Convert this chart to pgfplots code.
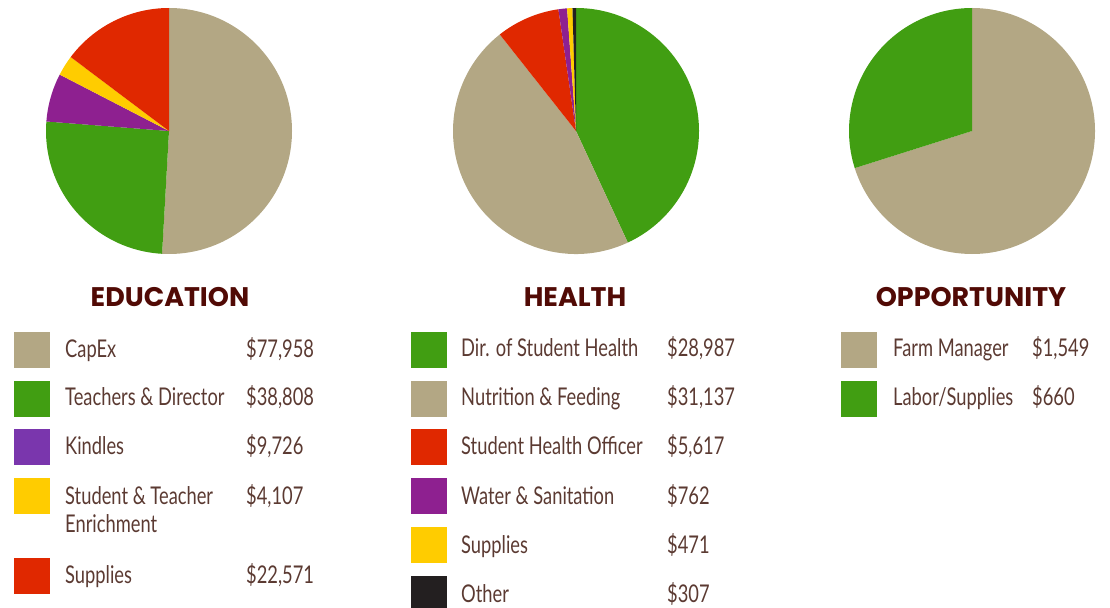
\documentclass[border=0pt]{standalone}
\usepackage{fontspec}
\setmainfont{Lato}
\newfontfamily\legfont[FakeStretch=0.75]{Lato}
\newfontfamily\titlefont{Poppins}
\usepackage{pgfplots}
\pgfplotsset{compat=1.18}

\definecolor{tan}{HTML}{B3A784}
\definecolor{grn}{HTML}{419E12}
\definecolor{rd}{HTML}{E02800}
\definecolor{pur}{HTML}{8E2090}
\definecolor{vio}{HTML}{7A36AD}
\definecolor{yel}{HTML}{FFCC00}
\definecolor{blk}{HTML}{231F20}
\definecolor{txt}{HTML}{5B3A32}
\definecolor{ttl}{HTML}{510A05}

% pie: centre x, centre y (pixels, y down), list value/colour, clockwise from 12 o'clock
\newcommand\pie[3]{%
  \xdef\total{0}%
  \foreach \v/\c in {#3} {\xdef\total{\fpeval{\total+\v}}}%
  \xdef\cum{0}%
  \foreach \v/\c in {#3} {%
    \edef\a{\fpeval{90-360*\cum/\total}}%
    \edef\b{\fpeval{90-360*(\cum+\v)/\total}}%
    \edef\tmp{\noexpand\fill[\c] (axis cs:#1,#2) -- ++(\a:123bp)
      arc[start angle=\a, end angle=\b, radius=123bp] -- cycle;}%
    \tmp
    \xdef\cum{\fpeval{\cum+\v}}%
  }%
}
\tikzset{leg/.style={anchor=base west, inner sep=0pt, text=txt,
  font=\legfont\fontsize{24.5}{28}\selectfont}}
% legend row: square x, top y, colour, label x, value x, baseline y, label, value
\newcommand\legrow[8]{%
  \fill[#3] (axis cs:#1,#2) rectangle (axis cs:#1+36,#2+36);
  \node[leg] at (axis cs:#4,#6) {#7};
  \node[leg] at (axis cs:#5,#6) {#8};
}

\begin{document}
\begin{tikzpicture}
\begin{axis}[
  scale only axis, width=1110bp, height=608bp,
  xmin=0, xmax=1110, ymin=0, ymax=608, y dir=reverse,
  hide axis, clip=true,
]
\coordinate (bl) at (axis cs:0,608);
\coordinate (tr) at (axis cs:1110,0);

% Education
\pie{169}{131}{77958/tan, 38808/grn, 9726/pur, 4107/yel, 22571/rd}
% Health
\pie{576}{131}{28987/grn, 31137/tan, 5617/rd, 762/pur, 471/yel, 307/blk}
% Opportunity
\pie{972}{131}{1549/tan, 660/grn}

\tikzset{ttlstyle/.style={anchor=base, inner sep=0pt, text=ttl,
  font=\titlefont\bfseries\fontsize{27}{30}\selectfont}}
\node[ttlstyle] at (axis cs:170,306) {EDUCATION};
\node[ttlstyle] at (axis cs:575,306) {HEALTH};
\node[ttlstyle] at (axis cs:971,306) {OPPORTUNITY};

\legrow{14}{332}{tan}{65}{246}{357}{CapEx}{\$77,958}
\legrow{14}{381}{grn}{65}{246}{405}{Teachers \& Director}{\$38,808}
\legrow{14}{429}{vio}{65}{246}{454}{Kindles}{\$9,726}
\legrow{14}{478}{yel}{65}{246}{504}{Student \& Teacher}{\$4,107}
\node[leg] at (axis cs:65,532) {Enrichment};
\legrow{14}{558}{rd}{65}{246}{583}{Supplies}{\$22,571}

\legrow{411}{332}{grn}{461}{667}{356}{Dir. of Student Health}{\$28,987}
\legrow{411}{381}{tan}{461}{667}{405}{Nutrition \& Feeding}{\$31,137}
\legrow{411}{429}{rd}{461}{667}{454}{Student Health Officer}{\$5,617}
\legrow{411}{478}{pur}{461}{667}{504}{Water \& Sanitation}{\$762}
\legrow{411}{527}{yel}{461}{667}{553}{Supplies}{\$471}
\legrow{411}{576}{blk}{461}{667}{602}{Other}{\$307}

\legrow{841}{332}{tan}{893}{1032}{356}{Farm Manager}{\$1,549}
\legrow{841}{381}{grn}{893}{1032}{405}{Labor/Supplies}{\$660}
\end{axis}
\pgfresetboundingbox
\useasboundingbox (bl) rectangle (tr);
\end{tikzpicture}
\end{document}
